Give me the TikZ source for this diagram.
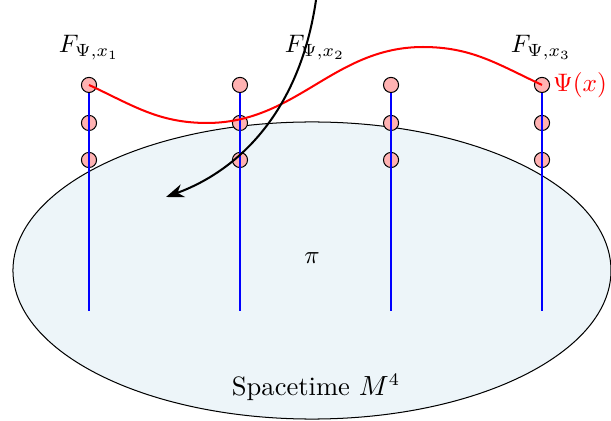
\documentclass[tikz,border=0pt]{standalone}
\usepackage{amsmath,amssymb}
\usepackage{xcolor}
\definecolor{spacefill}{RGB}{237,245,249}
\usepackage{tikz}
\usetikzlibrary{arrows.meta, positioning, calc}

\begin{document}
\begin{tikzpicture}[
    fiberdot/.style={circle, draw, fill=red!30, minimum size=0.21cm, inner sep=0pt},
    fiberline/.style={blue, thick}
  ]
  \useasboundingbox (0,0) rectangle (8.486,5.847);

  % Spacetime ellipse
  \draw[fill=spacefill] (4.333,2.090) ellipse [x radius=4.153, y radius=2.063];
  \node (pi) at (4.333,2.264) {$\pi$};
  \node[font=\fontsize{10.5}{12.6}\selectfont] (spacetime) at (4.389,0.472) {Spacetime $M^4$};

  % Fibers with three points each
  \foreach \x/\n in {1.236/1, 3.333/2, 5.431/3, 7.528/4} {
    \node[fiberdot] (d\n-a) at (\x,4.667) {};
    \node[fiberdot] (d\n-b) at (\x,4.139) {};
    \node[fiberdot] (d\n-c) at (\x,3.625) {};
    \coordinate (b\n) at (\x,1.528);
    \draw[fiberline] (d\n-a) -- (b\n);
  }

  % Fiber labels
  \foreach \x/\label in {1.236/1, 4.375/2, 7.514/3} {
    \node (f\label) at (\x,5.181) {$F_{\Psi,x_\label}$};
  }

  % Section Psi(x)
  \coordinate (wmin) at (2.875,4.139);
  \coordinate (wmax) at (5.875,5.194);
  \draw[red, thick] (d1-a.center) to[out=-25, in=180] (wmin)
    to[out=0, in=180] (wmax) to[out=0, in=155] (d4-a.center);
  \node[red, right=0pt of d4-a, inner sep=1pt] (psi) {$\Psi(x)$};

  % Projection arrow
  \coordinate (atop) at (4.389,5.847);
  \coordinate (aend) at (2.306,3.111);
  \draw[thick, -{Stealth[length=2.5mm]}] (atop) .. controls (4.167,4.319) and (3.333,3.486) .. (aend);

\end{tikzpicture}
\end{document}
